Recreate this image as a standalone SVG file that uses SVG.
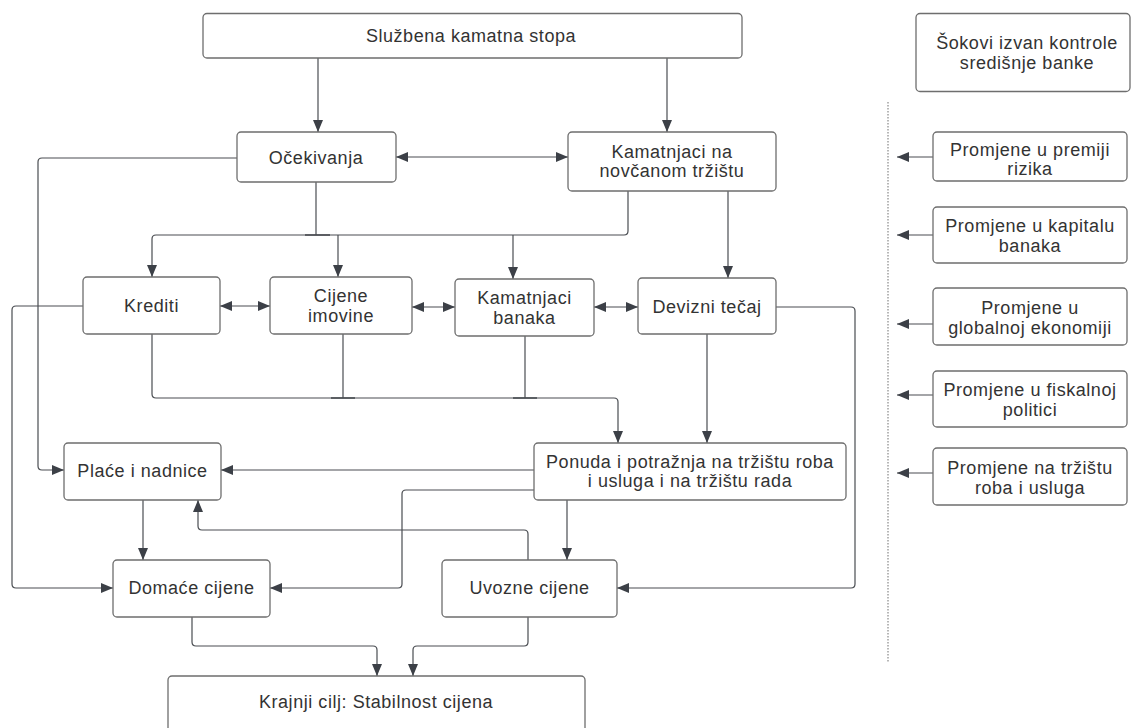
<svg xmlns="http://www.w3.org/2000/svg" width="1132" height="728" viewBox="0 0 1132 728">
<style>
.box{fill:#fff;stroke:#6e6e6e;stroke-width:1.3}
.t{font-family:"Liberation Sans",Arial,sans-serif;font-size:18px;letter-spacing:0.55px;fill:#333;text-anchor:middle}
.c{fill:none;stroke:#4a4d52;stroke-width:1.2}
.tick{stroke:#4a4d52;stroke-width:1.6}
.dot{stroke:#888;stroke-width:1.2;stroke-dasharray:1.5 1.5}
</style>
<defs>
<marker id="ah" viewBox="0 0 12 12" refX="12" refY="6" markerWidth="12" markerHeight="12" markerUnits="userSpaceOnUse" orient="auto-start-reverse">
<path d="M0,1 L12,6 L0,11 z" fill="#3c4047"/>
</marker>
</defs>
<rect width="1132" height="728" fill="#fff"/>

<g id="connectors">
<path class="c" d="M318,58 V132" marker-end="url(#ah)"/>
<path class="c" d="M667,58 V132" marker-end="url(#ah)"/>
<path class="c" d="M396,157 H568" marker-start="url(#ah)" marker-end="url(#ah)"/>
<path class="c" d="M237,158 H42 Q38,158 38,162 V466 Q38,470 42,470 H64" marker-end="url(#ah)"/>
<path class="c" d="M316,182 V235"/>
<line class="tick" x1="305" y1="235" x2="330" y2="235"/>
<path class="c" d="M628,191 V231 Q628,235 624,235 H156 Q152,235 152,239 V277" marker-end="url(#ah)"/>
<path class="c" d="M338,235 V277" marker-end="url(#ah)"/>
<path class="c" d="M513,235 V279" marker-end="url(#ah)"/>
<path class="c" d="M728,191 V278" marker-end="url(#ah)"/>
<path class="c" d="M220,306 H270" marker-start="url(#ah)" marker-end="url(#ah)"/>
<path class="c" d="M412,307 H455" marker-start="url(#ah)" marker-end="url(#ah)"/>
<path class="c" d="M594,307 H638" marker-start="url(#ah)" marker-end="url(#ah)"/>
<path class="c" d="M83,306 H16 Q12,306 12,310 V584 Q12,588 16,588 H113" marker-end="url(#ah)"/>
<path class="c" d="M152,334 V394 Q152,398 156,398 H614 Q618,398 618,402 V443" marker-end="url(#ah)"/>
<path class="c" d="M343,334 V398"/>
<line class="tick" x1="331" y1="398" x2="355" y2="398"/>
<path class="c" d="M525,336 V398"/>
<line class="tick" x1="513" y1="398" x2="537" y2="398"/>
<path class="c" d="M707,334 V443" marker-end="url(#ah)"/>
<path class="c" d="M776,307 H851 Q855,307 855,311 V584 Q855,588 851,588 H617" marker-end="url(#ah)"/>
<path class="c" d="M534,470 H221" marker-end="url(#ah)"/>
<path class="c" d="M534,490 H406 Q402,490 402,494 V584 Q402,588 398,588 H270" marker-end="url(#ah)"/>
<path class="c" d="M567,500 V560" marker-end="url(#ah)"/>
<path class="c" d="M528,560 V534 Q528,530 524,530 H202 Q198,530 198,526 V500" marker-end="url(#ah)"/>
<path class="c" d="M143,500 V560" marker-end="url(#ah)"/>
<path class="c" d="M192,617 V642 Q192,646 196,646 H373 Q377,646 377,650 V676" marker-end="url(#ah)"/>
<path class="c" d="M528,617 V642 Q528,646 524,646 H417 Q413,646 413,650 V676" marker-end="url(#ah)"/>
<path class="c" d="M933,157 H897" marker-end="url(#ah)"/>
<path class="c" d="M933,235 H897" marker-end="url(#ah)"/>
<path class="c" d="M933,324 H897" marker-end="url(#ah)"/>
<path class="c" d="M933,395 H897" marker-end="url(#ah)"/>
<path class="c" d="M933,473 H897" marker-end="url(#ah)"/>
</g>

<line id="divider" class="dot" x1="888" y1="102" x2="888" y2="663"/>

<g id="n-sluzbena"><rect class="box" x="203" y="13.5" width="539" height="44.5" rx="4"/><text class="t" x="471" y="42">Službena kamatna stopa</text></g>
<g id="n-sokovi"><rect class="box" x="916" y="13.5" width="214" height="78" rx="4"/><text class="t" x="1027" y="49">Šokovi izvan kontrole</text><text class="t" x="1027" y="69">središnje banke</text></g>
<g id="n-ocekivanja"><rect class="box" x="237" y="132" width="159" height="50" rx="4"/><text class="t" x="316" y="163.5">Očekivanja</text></g>
<g id="n-kamatnjaci-nt"><rect class="box" x="568" y="132" width="208" height="59" rx="4"/><text class="t" x="672" y="158">Kamatnjaci na</text><text class="t" x="672" y="177">novčanom tržištu</text></g>
<g id="n-krediti"><rect class="box" x="83" y="277" width="137" height="57" rx="4"/><text class="t" x="151.5" y="312">Krediti</text></g>
<g id="n-cijene-imovine"><rect class="box" x="270" y="277" width="142" height="57" rx="4"/><text class="t" x="341" y="302">Cijene</text><text class="t" x="341" y="322">imovine</text></g>
<g id="n-kamatnjaci-banaka"><rect class="box" x="455" y="279" width="139" height="57" rx="4"/><text class="t" x="524.5" y="304">Kamatnjaci</text><text class="t" x="524.5" y="324">banaka</text></g>
<g id="n-devizni"><rect class="box" x="638" y="278" width="138" height="56" rx="4"/><text class="t" x="707" y="312.5">Devizni tečaj</text></g>
<g id="n-place"><rect class="box" x="64" y="443" width="157" height="57" rx="4"/><text class="t" x="142.5" y="477">Plaće i nadnice</text></g>
<g id="n-ponuda"><rect class="box" x="534" y="443" width="312" height="57" rx="4"/><text class="t" x="690" y="468">Ponuda i potražnja na tržištu roba</text><text class="t" x="690" y="487">i usluga i na tržištu rada</text></g>
<g id="n-domace"><rect class="box" x="113" y="560" width="157" height="57" rx="4"/><text class="t" x="191.5" y="594">Domaće cijene</text></g>
<g id="n-uvozne"><rect class="box" x="442" y="560" width="175" height="57" rx="4"/><text class="t" x="529.5" y="594">Uvozne cijene</text></g>
<g id="n-krajnji"><rect class="box" x="168" y="676" width="417" height="70" rx="4"/><text class="t" x="376" y="708">Krajnji cilj: Stabilnost cijena</text></g>
<g id="n-premija"><rect class="box" x="933" y="132" width="194" height="49" rx="4"/><text class="t" x="1030" y="156">Promjene u premiji</text><text class="t" x="1030" y="175">rizika</text></g>
<g id="n-kapital"><rect class="box" x="933" y="207" width="194" height="56" rx="4"/><text class="t" x="1030" y="232">Promjene u kapitalu</text><text class="t" x="1030" y="252">banaka</text></g>
<g id="n-globalna"><rect class="box" x="933" y="288" width="194" height="57" rx="4"/><text class="t" x="1030" y="314">Promjene u</text><text class="t" x="1030" y="334">globalnoj ekonomiji</text></g>
<g id="n-fiskalna"><rect class="box" x="933" y="371" width="194" height="56" rx="4"/><text class="t" x="1030" y="396">Promjene u fiskalnoj</text><text class="t" x="1030" y="416">politici</text></g>
<g id="n-trziste"><rect class="box" x="933" y="448" width="194" height="57" rx="4"/><text class="t" x="1030" y="474">Promjene na tržištu</text><text class="t" x="1030" y="494">roba i usluga</text></g>
</svg>
